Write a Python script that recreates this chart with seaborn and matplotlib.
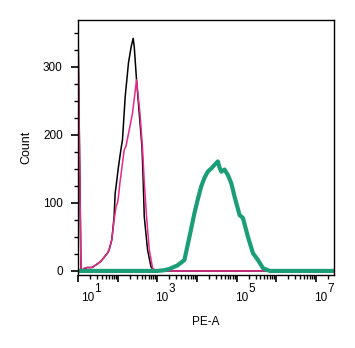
import numpy as np
import pandas as pd
import matplotlib
matplotlib.use("Agg")
import matplotlib.pyplot as plt
import matplotlib.transforms as mtrans
from matplotlib.ticker import LogLocator, FixedLocator, MultipleLocator, NullFormatter
import seaborn as sns

# ---- data (log10 of PE-A, counts) ----
black_log = [1.000, 1.076, 1.152, 1.228, 1.354, 1.456, 1.575, 1.658, 1.742, 1.785, 1.853, 1.911,
             1.937, 1.970, 2.013, 2.081, 2.122, 2.190, 2.273, 2.342, 2.392, 2.418, 2.476, 2.544,
             2.613, 2.640, 2.671, 2.754, 2.841, 2.924, 7.456]
black_cnt = [360, 0, 3, 5, 5, 9, 14, 20, 26, 31, 46, 80,
             114, 129, 150, 178, 193, 256, 306, 330, 342, 330, 281, 232,
             183, 140, 80, 31, 6, 0, 0]

pink_log = [1.000, 1.076, 1.152, 1.228, 1.354, 1.456, 1.575, 1.658, 1.742, 1.785, 1.853, 1.911,
            1.962, 1.995, 2.020, 2.056, 2.114, 2.165, 2.208, 2.291, 2.375, 2.476, 2.562, 2.628,
            2.671, 2.729, 2.797, 2.881, 2.975, 7.456]
pink_cnt = [355, 0, 4, 5, 5, 9, 14, 20, 26, 31, 46, 75,
            95, 100, 109, 129, 155, 178, 183, 207, 232, 281, 232, 180,
            130, 80, 31, 4, 0, 0]

teal_log = [1.000, 3.000, 3.177, 3.304, 3.506, 3.684, 3.810, 3.937, 4.020, 4.106, 4.190, 4.273,
            4.367, 4.443, 4.527, 4.570, 4.613, 4.696, 4.780, 4.866, 4.949, 5.076, 5.159, 5.286,
            5.413, 5.539, 5.666, 5.835, 7.456]
teal_cnt = [0, 0, 1, 3, 8, 16, 50, 85, 105, 124, 137, 146,
            151, 156, 161, 152, 146, 149, 141, 129, 109, 82, 78, 50,
            26, 16, 4, 0, 0]

x_tick_exps = [1, 2, 3, 4, 5, 6, 7]
x_label_exps = [1, 3, 5, 7]
y_ticks = [0, 100, 200, 300]

sns.set_style("ticks")
plt.rcParams['font.family'] = ['Liberation Sans', 'DejaVu Sans']
for k in ["text.color", "axes.labelcolor", "xtick.color", "ytick.color"]:
    plt.rcParams[k] = "black"

FS = 8.5
fig = plt.figure(figsize=(3.55, 3.48), dpi=100)
ax = fig.add_axes([78/355, 1 - 275/348, (334-78)/355, (275-20)/348])

for lg, cnt, col, lw in [(black_log, black_cnt, "#000000", 1.1),
                         (pink_log, pink_cnt, "#e7298a", 1.1),
                         (teal_log, teal_cnt, "#1b9e77", 3.0)]:
    df = pd.DataFrame({"PE-A": np.power(10.0, lg), "Count": cnt})
    sns.lineplot(data=df, x="PE-A", y="Count", ax=ax, color=col, linewidth=lw,
                 estimator=None, sort=False)

ax.set_xscale("log")
ax.set_xlim(10, 10**7.456)
ax.set_ylim(-6, 369)

ax.xaxis.set_major_locator(FixedLocator([10.0**e for e in x_tick_exps]))
ax.xaxis.set_minor_locator(LogLocator(base=10, subs=np.arange(2, 10), numticks=50))
ax.xaxis.set_minor_formatter(NullFormatter())
ax.set_xticklabels(["10" if e in x_label_exps else "" for e in x_tick_exps])

ax.set_yticks(y_ticks)
ax.yaxis.set_minor_locator(MultipleLocator(25))

ax.tick_params(axis="both", which="major", length=5.2, width=1.2, labelsize=FS)
ax.tick_params(axis="both", which="minor", length=3, width=1.0)
ax.tick_params(axis="x", which="major", pad=7.2)
ax.tick_params(axis="y", which="major", pad=5.8)

# shift "10" labels so they start at the tick; add exponent digits as superscripts
for e, lbl in zip(x_tick_exps, ax.get_xticklabels()):
    dx = 3 if e == 1 else -2
    lbl.set_horizontalalignment("left")
    lbl.set_transform(lbl.get_transform() + mtrans.ScaledTranslation(dx/100, 0, fig.dpi_scale_trans))
    if e in x_label_exps:
        tr = mtrans.blended_transform_factory(ax.transData, ax.transAxes) + \
            mtrans.ScaledTranslation((dx + 13.5)/100, 0, fig.dpi_scale_trans)
        ax.text(10.0**e, -8/255, str(e), transform=tr, ha="left", va="top", fontsize=FS)

for s in ax.spines.values():
    s.set_visible(True)
    s.set_color("black")
    s.set_linewidth(1.0)

ax.set_xlabel("PE-A", fontsize=FS, labelpad=8.4)
ax.set_ylabel("Count", fontsize=9, labelpad=7.4)

fig.savefig("out.png", dpi=100)
